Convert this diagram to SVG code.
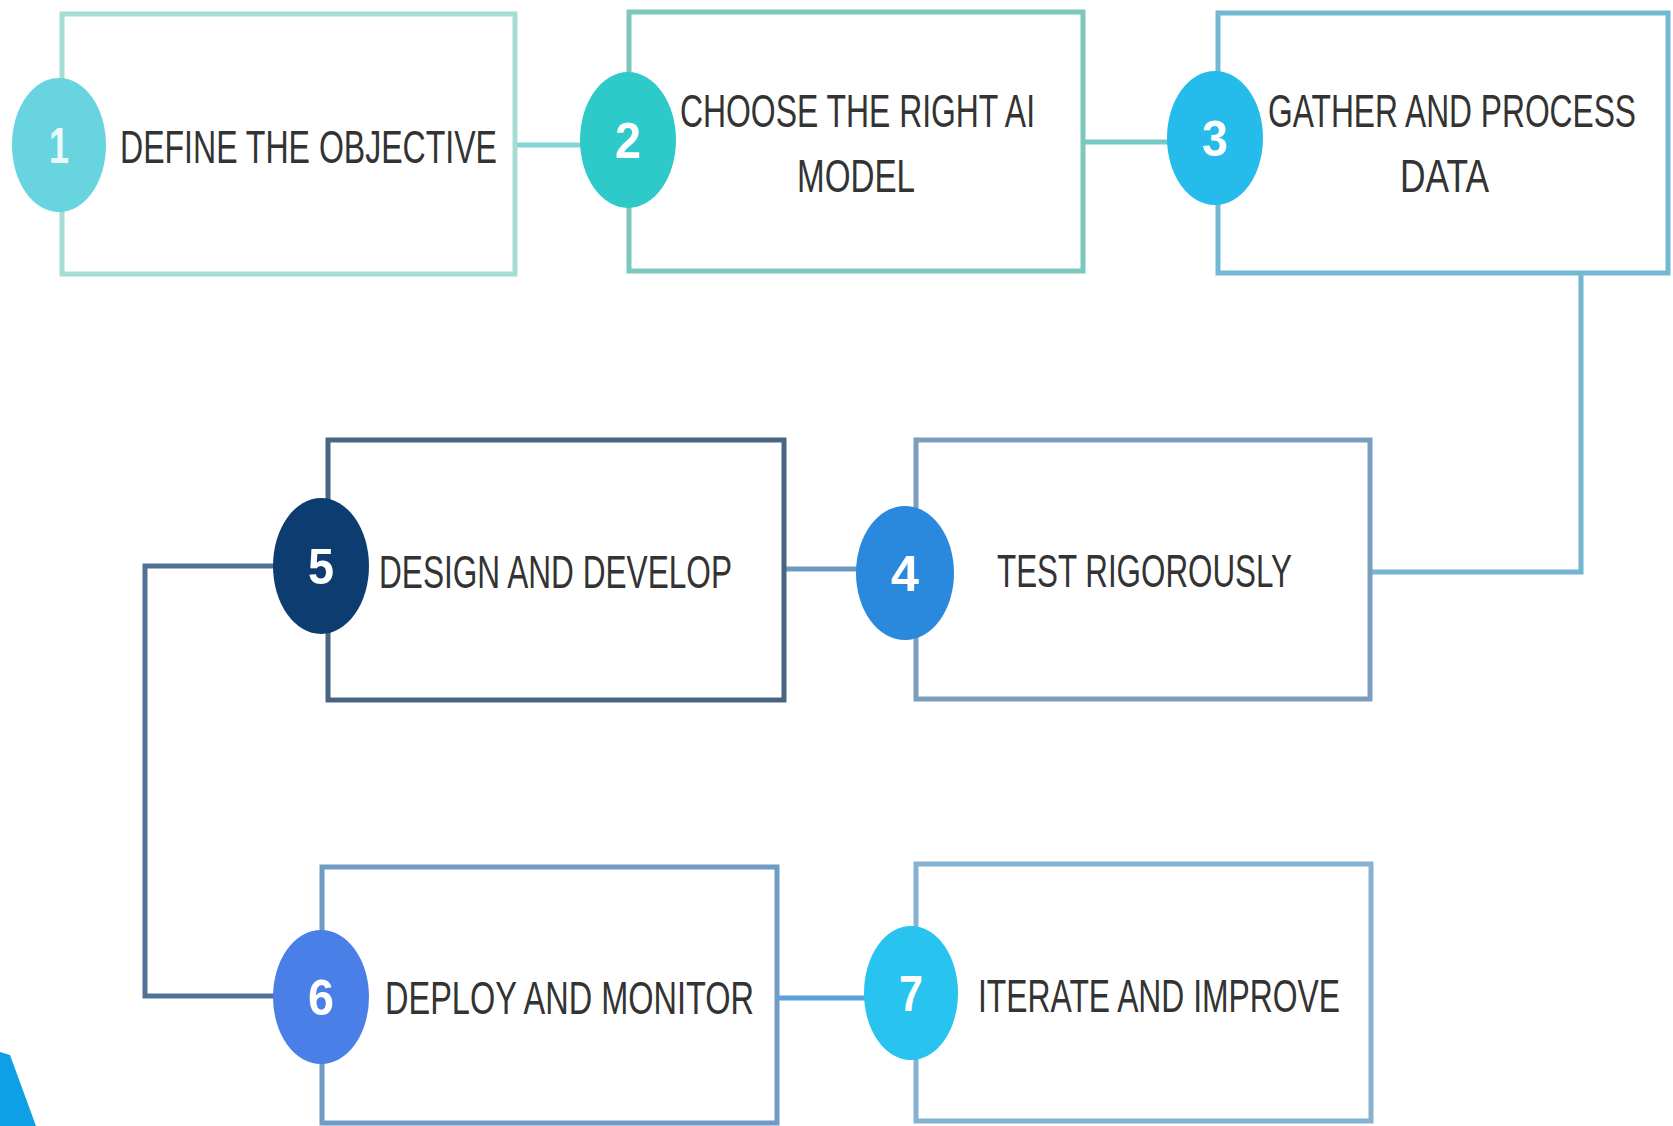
<svg xmlns="http://www.w3.org/2000/svg" width="1673" height="1126" viewBox="0 0 1673 1126">
<style>
.box{fill:#ffffff;stroke-width:5}
.lbl{font-family:"Liberation Sans",Arial,sans-serif;font-size:46px;fill:#333333}
.num{font-family:"Liberation Sans",Arial,sans-serif;font-size:50px;font-weight:bold;fill:#ffffff;text-anchor:middle}
.con{fill:none;stroke-width:5}
</style>
<rect width="1673" height="1126" fill="#ffffff"/>
<g id="connectors">
<line class="con" x1="515" y1="145" x2="585" y2="145" stroke="#86d3d3"/>
<line class="con" x1="1083" y1="142" x2="1170" y2="142" stroke="#75c9c7"/>
<polyline class="con" points="1581,273 1581,572 1370,572" stroke="#72b6d2"/>
<line class="con" x1="784" y1="569" x2="860" y2="569" stroke="#6c98c0"/>
<polyline class="con" points="275,566 145,566 145,996 275,996" stroke="#4f7296"/>
<line class="con" x1="777" y1="998" x2="866" y2="998" stroke="#5aa0dc"/>
</g>
<g id="node1">
<rect class="box" x="62" y="14" width="453" height="260" stroke="#a6dcd6"/>
<ellipse cx="59" cy="145" rx="47" ry="67" fill="#67d4e0"/>
<text class="num" x="59" y="163" textLength="20" lengthAdjust="spacingAndGlyphs" fill-opacity="0.9">1</text>
<text class="lbl" x="120" y="163" textLength="377" lengthAdjust="spacingAndGlyphs">DEFINE THE OBJECTIVE</text>
</g>
<g id="node2">
<rect class="box" x="629" y="12" width="454" height="259" stroke="#7cc8c0"/>
<ellipse cx="628" cy="140" rx="48" ry="68" fill="#2ec9c9"/>
<text class="num" x="628" y="158" textLength="26" lengthAdjust="spacingAndGlyphs">2</text>
<text class="lbl" x="680" y="127" textLength="355" lengthAdjust="spacingAndGlyphs">CHOOSE THE RIGHT AI</text>
<text class="lbl" x="797" y="192" textLength="118" lengthAdjust="spacingAndGlyphs">MODEL</text>
</g>
<g id="node3">
<rect class="box" x="1218" y="13" width="450" height="260" stroke="#74b9d4"/>
<ellipse cx="1215" cy="138" rx="48" ry="67" fill="#25bbea"/>
<text class="num" x="1215" y="156" textLength="26" lengthAdjust="spacingAndGlyphs">3</text>
<text class="lbl" x="1268" y="127" textLength="368" lengthAdjust="spacingAndGlyphs">GATHER AND PROCESS</text>
<text class="lbl" x="1400" y="192" textLength="89" lengthAdjust="spacingAndGlyphs">DATA</text>
</g>
<g id="node4">
<rect class="box" x="916" y="440" width="454" height="259" stroke="#7b9ebd"/>
<ellipse cx="905" cy="573" rx="49" ry="67" fill="#2a89dc"/>
<text class="num" x="905" y="591" textLength="28" lengthAdjust="spacingAndGlyphs">4</text>
<text class="lbl" x="997" y="587" textLength="295" lengthAdjust="spacingAndGlyphs">TEST RIGOROUSLY</text>
</g>
<g id="node5">
<rect class="box" x="328" y="440" width="456" height="260" stroke="#4a6582"/>
<ellipse cx="321" cy="566" rx="48" ry="68" fill="#0d3d70"/>
<text class="num" x="321" y="584" textLength="26" lengthAdjust="spacingAndGlyphs">5</text>
<text class="lbl" x="379" y="588" textLength="353" lengthAdjust="spacingAndGlyphs">DESIGN AND DEVELOP</text>
</g>
<g id="node6">
<rect class="box" x="322" y="867" width="455" height="256" stroke="#6f9bc4"/>
<ellipse cx="321" cy="997" rx="48" ry="67" fill="#4a7fe8"/>
<text class="num" x="321" y="1015" textLength="26" lengthAdjust="spacingAndGlyphs">6</text>
<text class="lbl" x="385" y="1014" textLength="369" lengthAdjust="spacingAndGlyphs">DEPLOY AND MONITOR</text>
</g>
<g id="node7">
<rect class="box" x="916" y="864" width="455" height="257" stroke="#86b2d2"/>
<ellipse cx="911" cy="993" rx="47" ry="67" fill="#28c3ef"/>
<text class="num" x="911" y="1011" textLength="24" lengthAdjust="spacingAndGlyphs">7</text>
<text class="lbl" x="978" y="1012" textLength="362" lengthAdjust="spacingAndGlyphs">ITERATE AND IMPROVE</text>
</g>
<polygon points="0,1052 10,1055 36,1126 0,1126" fill="#0ea0e6"/>
</svg>
